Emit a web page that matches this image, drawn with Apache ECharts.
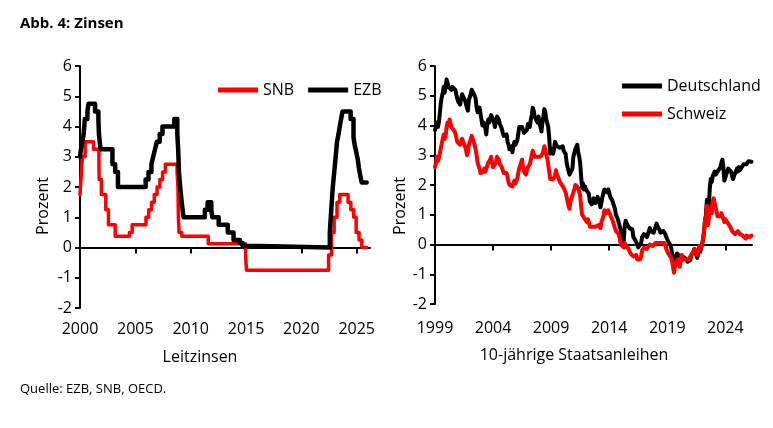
<!DOCTYPE html>
<html>
<head>
<meta charset="utf-8">
<script src="https://cdn.jsdelivr.net/npm/echarts@6/dist/echarts.min.js"></script>
<style>
  html, body { margin: 0; padding: 0; background: #fff; }
  #chart { width: 773px; height: 428px; }
</style>
</head>
<body>
<div id="chart"></div>
<script>
// Leitzinsen: Zeitpunkt der Änderung (Dezimaljahr) und neuer Satz
const ezbDates = [2000.0, 2000.09, 2000.21, 2000.33, 2000.44, 2000.67, 2000.77, 2001.36, 2001.66, 2001.71, 2001.86,
  2002.93, 2003.18, 2003.43, 2005.93, 2006.19, 2006.45, 2006.61, 2006.78, 2006.95, 2007.2, 2007.45,
  2008.52, 2008.79, 2008.87, 2008.94, 2009.05, 2009.19, 2009.27, 2009.36, 2011.28, 2011.53, 2011.86, 2011.95,
  2012.53, 2013.35, 2013.87, 2014.44, 2014.69, 2016.21, 2022.57, 2022.7, 2022.84, 2022.97, 2023.1, 2023.22,
  2023.36, 2023.47, 2023.59, 2023.72, 2024.45, 2024.71, 2024.81, 2024.96, 2025.1, 2025.19, 2025.31, 2025.45, 2025.9];
const ezbRates = [3.0, 3.25, 3.5, 3.75, 4.25, 4.5, 4.75, 4.5, 4.25, 3.75, 3.25,
  2.75, 2.5, 2.0, 2.25, 2.5, 2.75, 3.0, 3.25, 3.5, 3.75, 4.0,
  4.25, 3.75, 3.25, 2.5, 2.0, 1.5, 1.25, 1.0, 1.25, 1.5, 1.25, 1.0,
  0.75, 0.5, 0.25, 0.15, 0.05, 0.0, 0.5, 1.25, 2.0, 2.5, 3.0, 3.5,
  3.75, 4.0, 4.25, 4.5, 4.25, 3.65, 3.4, 3.15, 2.9, 2.65, 2.4, 2.15, 2.15];

const snbDates = [2000.0, 2000.09, 2000.22, 2000.46, 2001.22, 2001.71, 2001.73, 2001.93, 2002.33, 2002.57,
  2003.18, 2004.46, 2004.71, 2005.96, 2006.21, 2006.46, 2006.71, 2006.96, 2007.21, 2007.46, 2007.71,
  2008.77, 2008.85, 2008.89, 2008.95, 2009.2, 2011.59, 2014.96, 2015.04, 2022.46, 2022.72, 2022.96,
  2023.22, 2023.47, 2024.22, 2024.47, 2024.73, 2024.95, 2025.21, 2025.46, 2025.9];
const snbRates = [1.75, 2.25, 3.0, 3.5, 3.25, 2.75, 2.25, 1.75, 1.25, 0.75,
  0.375, 0.5, 0.75, 1.0, 1.25, 1.5, 1.75, 2.0, 2.25, 2.5, 2.75,
  2.5, 2.0, 1.0, 0.5, 0.375, 0.125, -0.25, -0.75, -0.25, 0.5, 1.0,
  1.5, 1.75, 1.5, 1.25, 1.0, 0.5, 0.25, 0.0, 0.0];

// 10-jährige Staatsanleihen, Monatswerte ab Januar 1999
const bondStart = 1999;
const deYield = [
  3.85, 3.9, 4.1, 3.95, 4.1, 4.4, 4.75, 4.95, 5.1, 5.3, 5.1, 5.3,          // 1999
  5.55, 5.5, 5.3, 5.25, 5.35, 5.2, 5.3, 5.25, 5.3, 5.2, 5.05, 4.9,         // 2000
  4.8, 4.75, 4.7, 4.9, 5.05, 5.0, 5.0, 4.85, 4.85, 4.6, 4.5, 4.85,         // 2001
  4.95, 5.0, 5.2, 5.15, 5.15, 5.0, 4.9, 4.6, 4.45, 4.5, 4.6, 4.4,          // 2002
  4.2, 4.0, 4.1, 4.15, 3.9, 3.7, 4.05, 4.2, 4.1, 4.25, 4.35, 4.3,          // 2003
  4.2, 4.1, 3.95, 4.15, 4.3, 4.3, 4.2, 4.05, 4.0, 3.9, 3.75, 3.65,         // 2004
  3.6, 3.6, 3.7, 3.45, 3.35, 3.2, 3.25, 3.3, 3.1, 3.3, 3.45, 3.35,         // 2005
  3.35, 3.5, 3.7, 3.95, 4.0, 3.95, 3.95, 3.85, 3.75, 3.8, 3.75, 3.85,      // 2006
  4.05, 4.05, 3.95, 4.2, 4.35, 4.6, 4.5, 4.3, 4.25, 4.35, 4.1, 4.3,        // 2007
  4.05, 3.95, 3.8, 4.1, 4.3, 4.55, 4.45, 4.2, 4.15, 3.95, 3.6, 3.05,       // 2008
  3.1, 3.2, 3.05, 3.2, 3.45, 3.45, 3.3, 3.35, 3.25, 3.25, 3.25, 3.2,       // 2009
  3.3, 3.15, 3.1, 3.05, 2.75, 2.6, 2.65, 2.35, 2.35, 2.4, 2.55, 2.95,      // 2010
  3.0, 3.2, 3.25, 3.35, 3.1, 2.95, 2.75, 2.3, 1.9, 2.05, 1.85, 1.95,       // 2011
  1.85, 1.9, 1.85, 1.7, 1.45, 1.45, 1.35, 1.45, 1.55, 1.5, 1.4, 1.35,      // 2012
  1.6, 1.6, 1.4, 1.25, 1.4, 1.6, 1.65, 1.85, 1.9, 1.8, 1.75, 1.85,         // 2013
  1.75, 1.6, 1.6, 1.5, 1.4, 1.35, 1.2, 1.0, 1.0, 0.85, 0.8, 0.6,           // 2014
  0.45, 0.35, 0.25, 0.1, 0.6, 0.8, 0.75, 0.65, 0.65, 0.55, 0.55, 0.6,      // 2015
  0.5, 0.25, 0.25, 0.15, 0.15, 0.0, -0.1, -0.1, -0.05, 0.05, 0.25, 0.3,    // 2016
  0.35, 0.3, 0.4, 0.25, 0.35, 0.3, 0.55, 0.45, 0.45, 0.45, 0.4, 0.4,       // 2017
  0.6, 0.7, 0.6, 0.55, 0.5, 0.4, 0.35, 0.35, 0.45, 0.45, 0.35, 0.25,       // 2018
  0.2, 0.1, 0.05, 0.0, -0.1, -0.3, -0.35, -0.6, -0.55, -0.45, -0.3, -0.25, // 2019
  -0.25, -0.4, -0.45, -0.45, -0.5, -0.42, -0.47, -0.47, -0.5, -0.58, -0.55, -0.58, // 2020
  -0.52, -0.35, -0.32, -0.25, -0.15, -0.2, -0.35, -0.45, -0.3, -0.15, -0.25, -0.3, // 2021
  0.0, 0.15, 0.4, 0.8, 1.0, 1.5, 1.1, 1.3, 1.9, 2.2, 2.1, 2.3,             // 2022
  2.3, 2.45, 2.35, 2.4, 2.4, 2.5, 2.5, 2.6, 2.75, 2.85, 2.6, 2.15,         // 2023
  2.2, 2.35, 2.4, 2.55, 2.6, 2.5, 2.45, 2.3, 2.2, 2.3, 2.3, 2.25,          // 2024
  2.55, 2.45, 2.6, 2.5, 2.55, 2.6, 2.65, 2.7, 2.7, 2.65, 2.7, 2.75,        // 2025
  2.8, 2.75, 2.8, 2.78                                                     // 2026
];
const chYield = [
  2.6, 2.75, 2.95, 2.8, 2.9, 3.05, 3.25, 3.4, 3.55, 3.7, 3.55, 3.65,       // 1999
  3.95, 4.1, 4.0, 4.2, 4.15, 3.95, 3.95, 3.85, 3.8, 3.75, 3.6, 3.45,       // 2000
  3.45, 3.4, 3.35, 3.45, 3.55, 3.45, 3.4, 3.3, 3.2, 3.0, 3.1, 3.35,        // 2001
  3.45, 3.5, 3.65, 3.55, 3.5, 3.35, 3.2, 3.0, 2.75, 2.65, 2.55, 2.4,       // 2002
  2.4, 2.4, 2.45, 2.55, 2.45, 2.4, 2.65, 2.75, 2.75, 2.85, 2.95, 2.75,     // 2003
  2.6, 2.65, 2.55, 2.75, 2.95, 2.9, 2.85, 2.7, 2.65, 2.6, 2.55, 2.4,       // 2004
  2.35, 2.35, 2.4, 2.25, 2.1, 2.0, 2.05, 2.0, 1.95, 2.0, 2.15, 2.05,       // 2005
  2.1, 2.2, 2.4, 2.55, 2.65, 2.7, 2.85, 2.6, 2.45, 2.4, 2.35, 2.5,         // 2006
  2.6, 2.65, 2.7, 2.85, 3.0, 3.15, 3.1, 2.95, 2.95, 3.0, 2.95, 3.0,        // 2007
  3.0, 2.95, 2.95, 3.05, 3.15, 3.3, 3.2, 3.0, 2.9, 2.7, 2.45, 2.2,        // 2008
  2.25, 2.2, 2.2, 2.2, 2.3, 2.5, 2.35, 2.3, 2.2, 2.1, 2.05, 2.0,           // 2009
  1.95, 1.9, 1.85, 1.75, 1.6, 1.45, 1.3, 1.2, 1.45, 1.55, 1.6, 1.75,       // 2010
  1.85, 2.0, 2.05, 2.0, 1.9, 1.85, 1.65, 1.3, 1.0, 1.05, 0.95, 0.85,       // 2011
  0.8, 0.75, 0.85, 0.75, 0.6, 0.65, 0.55, 0.6, 0.6, 0.6, 0.6, 0.55,        // 2012
  0.6, 0.65, 0.6, 0.55, 0.75, 0.85, 0.95, 1.15, 1.15, 1.05, 1.05, 1.15,    // 2013
  1.1, 1.0, 0.95, 0.85, 0.75, 0.7, 0.55, 0.45, 0.45, 0.45, 0.35, 0.3,      // 2014
  0.0, 0.05, 0.0, -0.1, 0.05, 0.05, -0.05, -0.1, -0.15, -0.2, -0.3, -0.35, // 2015
  -0.3, -0.4, -0.35, -0.35, -0.35, -0.5, -0.55, -0.5, -0.5, -0.4, -0.2, -0.15, // 2016
  -0.1, -0.1, -0.1, -0.15, -0.1, -0.1, 0.0, -0.05, -0.05, -0.05, -0.1, -0.1, // 2017
  0.05, 0.1, 0.05, 0.05, 0.05, 0.0, 0.05, 0.05, 0.1, 0.05, -0.05, -0.15,   // 2018
  -0.2, -0.3, -0.35, -0.35, -0.45, -0.55, -0.6, -0.95, -0.75, -0.6, -0.55, -0.5, // 2019
  -0.6, -0.75, -0.5, -0.35, -0.5, -0.45, -0.45, -0.5, -0.5, -0.55, -0.5, -0.55, // 2020
  -0.5, -0.35, -0.3, -0.25, -0.15, -0.25, -0.3, -0.35, -0.2, -0.05, -0.15, -0.15, // 2021
  0.0, 0.2, 0.45, 0.8, 0.9, 1.3, 0.65, 0.85, 1.15, 1.25, 1.05, 1.45,       // 2022
  1.55, 1.4, 1.25, 1.1, 0.95, 1.0, 0.9, 0.95, 1.05, 1.0, 0.85, 0.75,       // 2023
  0.85, 0.8, 0.75, 0.75, 0.8, 0.6, 0.55, 0.45, 0.4, 0.45, 0.35, 0.3,       // 2024
  0.4, 0.45, 0.5, 0.35, 0.3, 0.35, 0.3, 0.25, 0.25, 0.2, 0.3, 0.25,        // 2025
  0.3, 0.25, 0.28, 0.3                                                     // 2026
];

const leftTicks = [2005, 2010, 2015, 2020, 2025];
const leftLabels = [2000, 2005, 2010, 2015, 2020, 2025];
const rightTicks = [2004, 2009, 2014, 2019, 2024];
const rightLabels = [1999, 2004, 2009, 2014, 2019, 2024];

const FONT = '"Open Sans", sans-serif';

const toPairs = (xs, ys) => xs.map((x, i) => [x, ys[i]]);
const monthly = (vals) => vals.map((v, i) => [bondStart + i / 12, v]);

const zeroAxis = (gridIndex, min, max, ticks) => ({
  type: 'value', gridIndex, min, max,
  axisLine: {onZero: true, lineStyle: {color: '#000', width: 2}},
  axisTick: {show: true, length: 6, customValues: ticks, lineStyle: {color: '#000', width: 2}},
  axisLabel: {show: false},
  splitLine: {show: false}
});
const labelAxis = (gridIndex, min, max, labels, margin) => ({
  type: 'value', gridIndex, min, max, position: 'bottom',
  axisLine: {show: false, onZero: false},
  axisTick: {show: false},
  axisLabel: {customValues: labels, margin, color: '#000', fontSize: 16, fontFamily: FONT,
    formatter: (v) => String(v)},
  splitLine: {show: false}
});
const percentAxis = (gridIndex) => ({
  type: 'value', gridIndex, min: -2, max: 6, interval: 1,
  axisLine: {show: true, onZero: false, lineStyle: {color: '#000', width: 2}},
  axisTick: {show: true, length: 5, lineStyle: {color: '#000', width: 2}},
  axisLabel: {color: '#000', fontSize: 16, fontFamily: FONT, margin: 8},
  splitLine: {show: false}
});

const chart = echarts.init(document.getElementById('chart'), null, {renderer: 'canvas'});

chart.setOption({
  backgroundColor: '#fff',
  animation: false,
  textStyle: {fontFamily: FONT},
  grid: [
    {left: 80, top: 66, width: 290, height: 242},
    {left: 435, top: 66, width: 317, height: 238}
  ],
  xAxis: [
    zeroAxis(0, 2000, 2026.2, leftTicks),
    labelAxis(0, 2000, 2026.2, leftLabels, 13),
    zeroAxis(1, 1999, 2026.3, rightTicks),
    labelAxis(1, 1999, 2026.3, rightLabels, 16)
  ],
  yAxis: [percentAxis(0), percentAxis(1)],
  legend: [
    {
      data: ['SNB', 'EZB'],
      left: 218, top: 82, padding: 0,
      icon: 'rect', itemWidth: 40, itemHeight: 5, itemGap: 14,
      textStyle: {color: '#000', fontSize: 16, fontFamily: FONT}
    },
    {
      data: ['Deutschland', 'Schweiz'],
      orient: 'vertical',
      left: 622, top: 78, padding: 0,
      icon: 'rect', itemWidth: 40, itemHeight: 5, itemGap: 12,
      textStyle: {color: '#000', fontSize: 16, fontFamily: FONT}
    }
  ],
  series: [
    {
      name: 'SNB', type: 'line', step: 'end', xAxisIndex: 0, yAxisIndex: 0,
      data: toPairs(snbDates, snbRates), symbol: 'none',
      color: '#ff0000', lineStyle: {color: '#ff0000', width: 3.5, join: 'round', cap: 'round'}
    },
    {
      name: 'EZB', type: 'line', step: 'end', xAxisIndex: 0, yAxisIndex: 0,
      data: toPairs(ezbDates, ezbRates), symbol: 'none',
      color: '#000', lineStyle: {color: '#000', width: 4.5, join: 'round', cap: 'round'}
    },
    {
      name: 'Deutschland', type: 'line', xAxisIndex: 2, yAxisIndex: 1,
      data: monthly(deYield), symbol: 'none',
      color: '#000', lineStyle: {color: '#000', width: 4, join: 'round', cap: 'round'}
    },
    {
      name: 'Schweiz', type: 'line', xAxisIndex: 2, yAxisIndex: 1,
      data: monthly(chYield), symbol: 'none',
      color: '#ff0000', lineStyle: {color: '#ff0000', width: 4, join: 'round', cap: 'round'}
    }
  ],
  graphic: [
    {type: 'text', left: 20, top: 16, style: {text: 'Abb. 4: Zinsen', font: 'bold 15px "Open Sans"', fill: '#000'}},
    {type: 'text', x: 43, y: 206, rotation: Math.PI / 2,
      style: {text: 'Prozent', font: '16px "Open Sans"', fill: '#000', align: 'center', verticalAlign: 'middle'}},
    {type: 'text', x: 400, y: 206, rotation: Math.PI / 2,
      style: {text: 'Prozent', font: '16px "Open Sans"', fill: '#000', align: 'center', verticalAlign: 'middle'}},
    {type: 'text', x: 200, y: 357,
      style: {text: 'Leitzinsen', font: '16px "Open Sans"', fill: '#000', align: 'center', verticalAlign: 'middle'}},
    {type: 'text', x: 574, y: 355,
      style: {text: '10-jährige Staatsanleihen', font: '16px "Open Sans"', fill: '#000', align: 'center', verticalAlign: 'middle'}},
    {type: 'text', left: 20, top: 383, style: {text: 'Quelle: EZB, SNB, OECD.', font: '13px "Open Sans"', fill: '#000'}}
  ]
});
</script>
</body>
</html>
